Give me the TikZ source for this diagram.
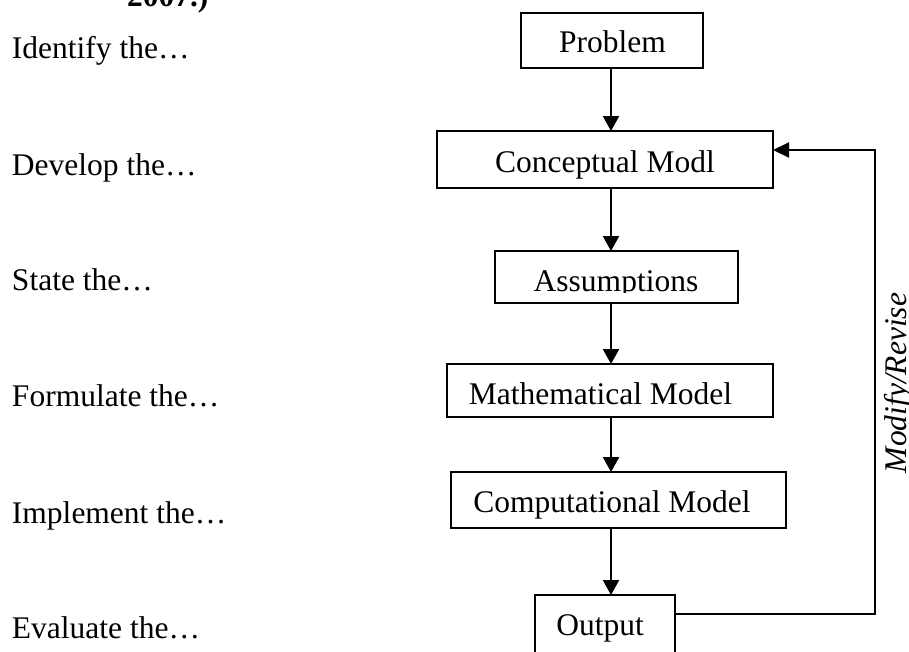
\documentclass[tikz,border=0pt]{standalone}
\usepackage{fontspec}
\setmainfont{Liberation Serif}
\usetikzlibrary{arrows.meta}
\begin{document}
\begin{tikzpicture}[x=1pt,y=-1pt,
  every node/.style={inner sep=0pt,outer sep=0pt,font=\fontsize{31.5pt}{38pt}\selectfont},
  box/.style={draw,line width=2.2pt,rectangle},
  txt/.style={anchor=base},
  side/.style={anchor=base west},
  arr/.style={line width=2.2pt,-{Triangle[length=15pt,width=16pt]}},
  fb/.style={line width=2.2pt,-{Triangle[length=16pt,width=15pt]}}]
\useasboundingbox (0,0) rectangle (909,651);
\clip (0,0) rectangle (909,651);

% step boxes
\node[box,minimum width=182pt,minimum height=55pt] (prob) at (612,40.5) {};
\node[box,minimum width=336pt,minimum height=57pt] (conc) at (605,159.5) {};
\node[box,minimum width=243pt,minimum height=52pt] (assm) at (616.5,277) {};
\node[box,minimum width=326pt,minimum height=53pt] (math) at (610,390.5) {};
\node[box,minimum width=335pt,minimum height=56pt] (comp) at (618.5,500) {};
\node[box,minimum width=140pt,minimum height=60pt] (outp) at (605,625) {};

% box captions
\node[txt] (tprob) at (612.5,52) {Problem};
\node[txt] (tconc) at (605,172) {Conceptual Modl};
\coordinate (aclip) at (0,292);
\begin{scope}
  \clip (assm.north west) rectangle (assm.east |- aclip);
  \node[txt] (tassm) at (616,291) {Assumptions};
\end{scope}
\node[txt] (tmath) at (600.5,404) {Mathematical Model};
\node[txt] (tcomp) at (612,512) {Computational Model};
\node[txt] (toutp) at (600,635) {Output};

% left column
\node[side,font=\fontsize{31.5pt}{38pt}\selectfont\bfseries] (yr) at (127,6) {2007.)};
\node[side] (l1) at (12,58) {Identify the…};
\node[side] (l2) at (12,175) {Develop the…};
\node[side] (l3) at (12,290) {State the…};
\node[side] (l4) at (12,406.5) {Formulate the…};
\node[side] (l5) at (12,523) {Implement the…};
\node[side] (l6) at (12,638) {Evaluate the…};

% main flow
\coordinate (ax) at (611,0);
\draw[arr] (prob.south -| ax) -- (conc.north -| ax);
\draw[arr] (conc.south -| ax) -- (assm.north -| ax);
\draw[arr] (assm.south -| ax) -- (math.north -| ax);
\draw[arr] (math.south -| ax) -- (comp.north -| ax);
\draw[arr] (comp.south -| ax) -- (outp.north -| ax);

% feedback loop
\coordinate (fbl) at (875,614);
\coordinate (fbt) at (875,150);
\draw[fb] (outp.east |- fbl) -- (fbl) -- (fbt) -- (conc.east |- fbt);
\node[anchor=base,rotate=90,font=\fontsize{31.5pt}{38pt}\selectfont\itshape] (mr) at (906,383) {Modify/Revise};
\end{tikzpicture}
\end{document}
